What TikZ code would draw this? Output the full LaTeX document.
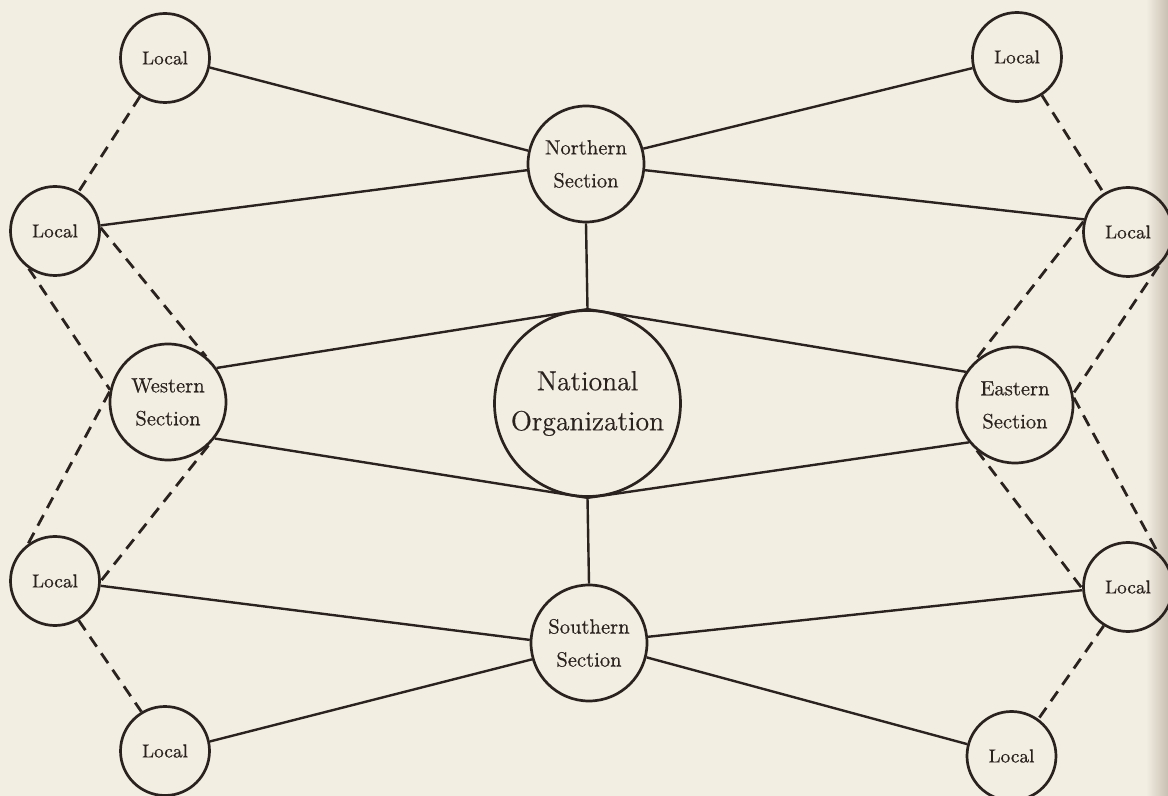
\documentclass[tikz,border=0pt]{standalone}
\usepackage{fontspec}
\setmainfont{Latin Modern Roman}[FakeBold=0.5]
\definecolor{paper}{RGB}{243,238,226}
\definecolor{ink}{RGB}{42,34,31}
\definecolor{edgeshade}{RGB}{200,192,178}
\begin{document}
\begin{tikzpicture}[x=0.5pt,y=-0.5pt,
  orgnode/.style={circle,draw=ink,line width=1.35pt,inner sep=0pt,text=ink,align=center},
  localnode/.style={orgnode,minimum size=44.5pt,font=\fontsize{9.4}{11}\selectfont},
  section/.style={orgnode,minimum size=58pt,font=\fontsize{10.3}{16.5}\selectfont},
  national/.style={orgnode,minimum size=93pt,font=\fontsize{13.8}{20}\selectfont},
  link/.style={draw=ink,line width=1.2pt},
  dashlink/.style={draw=ink,line width=1.4pt,dash pattern=on 6pt off 4pt}]
\fill[paper] (0,0) rectangle (1168,796);
\shade[left color=paper,right color=edgeshade] (1146,0) rectangle (1168,796);
\useasboundingbox (0,0) rectangle (1168,796);

\node[localnode] (tl) at (165,58) {Local};
\node[localnode] (tr) at (1017,57) {Local};
\node[section] (n) at (586,164) {Northern\\Section};
\node[localnode] (l1) at (55,231) {Local};
\node[localnode] (r1) at (1128,232) {Local};
\node[section] (w) at (168,402) {Western\\Section};
\node[national] (nat) at (587.5,403.5) {National\\Organization};
\node[section] (e) at (1015,405) {Eastern\\Section};
\node[localnode] (l2) at (55,581) {Local};
\node[localnode] (r2) at (1128,587) {Local};
\node[section] (s) at (589,643) {Southern\\Section};
\node[localnode] (bl) at (165,751) {Local};
\node[localnode] (br) at (1011.5,756) {Local};

% solid links
\draw[link] (tl.-12) -- (n.167);
\draw[link] (tr.194) -- (n.15.7);
\draw[link] (l1.7.6) -- (n.186);
\draw[link] (r1.164) -- (n.-6);
\draw[link] (n.south) -- (nat.north);
\draw[link] (w.35) -- (nat.north);
\draw[link] (w.-38) -- (nat.south);
\draw[link] (e.146.6) -- (nat.north);
\draw[link] (e.219.7) -- (nat.south);
\draw[link] (nat.south) -- (s.north);
\draw[link] (l2.-6) -- (s.177);
\draw[link] (r2.184) -- (s.6);
\draw[link] (bl.12.5) -- (s.196.6);
\draw[link] (br.165) -- (s.-14.5);

% dashed links
\draw[dashlink] (tl.237) -- (l1.59.5);
\draw[dashlink] (l1.4) -- (w.50.6);
\draw[dashlink] (l1.235) -- (w.168);
\draw[dashlink] (w.170) -- (l2.126);
\draw[dashlink] (w.-47) -- (l2.0);
\draw[dashlink] (l2.-59.5) -- (bl.121);
\draw[dashlink] (tr.-57) -- (r1.122.7);
\draw[dashlink] (r1.167) -- (e.135);
\draw[dashlink] (r1.-48) -- (e.11.5);
\draw[dashlink] (e.7.6) -- (r2.50.6);
\draw[dashlink] (e.230) -- (r2.182);
\draw[dashlink] (r2.238) -- (br.54);
\end{tikzpicture}
\end{document}
